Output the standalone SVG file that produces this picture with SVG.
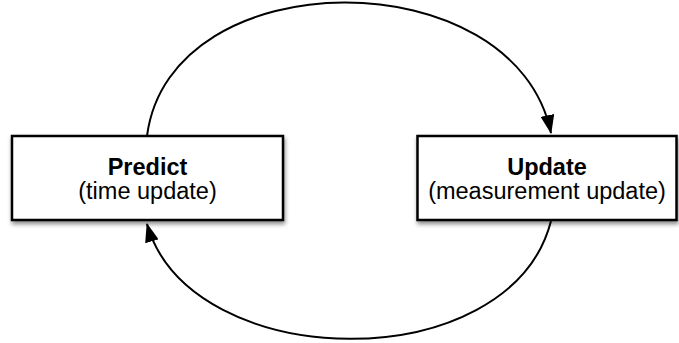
<svg xmlns="http://www.w3.org/2000/svg" width="679" height="343" viewBox="0 0 679 343">
  <defs>
    <filter id="shadow" x="-10%" y="-20%" width="130%" height="160%">
      <feDropShadow dx="1" dy="3" stdDeviation="2" flood-color="#000" flood-opacity="0.45"/>
    </filter>
    <marker id="arrow" markerUnits="userSpaceOnUse" viewBox="0 0 19 14" markerWidth="19" markerHeight="14" refX="18" refY="7" orient="auto">
      <path d="M0,0 L19,7 L0,14 z" fill="#000"/>
    </marker>
    <style>
      .box { fill: #fff; stroke: #000; stroke-width: 2.5; filter: url(#shadow); }
      .title { font-family: "Liberation Sans", Arial, sans-serif; font-weight: bold; font-size: 23.5px; text-anchor: middle; fill: #000; }
      .sub { font-family: "Liberation Sans", Arial, sans-serif; font-size: 23.5px; text-anchor: middle; fill: #000; }
      .edge { fill: none; stroke: #000; stroke-width: 2; marker-end: url(#arrow); }
    </style>
  </defs>

  <g id="connectors">
    <!-- predict -> update, over the top -->
    <path class="edge" d="M147,136 C170,-41.5 515,-41.5 551,133"/>
    <!-- update -> predict, underneath -->
    <path class="edge" d="M551,221 C510,380 190,375 147,224"/>
  </g>

  <g id="predict">
    <rect class="box" x="12" y="136" width="271" height="84"/>
    <text class="title" x="147.5" y="175">Predict</text>
    <text class="sub" x="147.5" y="199">(time update)</text>
  </g>

  <g id="update">
    <rect class="box" x="417.5" y="136" width="259" height="84"/>
    <text class="title" x="547" y="175">Update</text>
    <text class="sub" x="547" y="199">(measurement update)</text>
  </g>
</svg>
